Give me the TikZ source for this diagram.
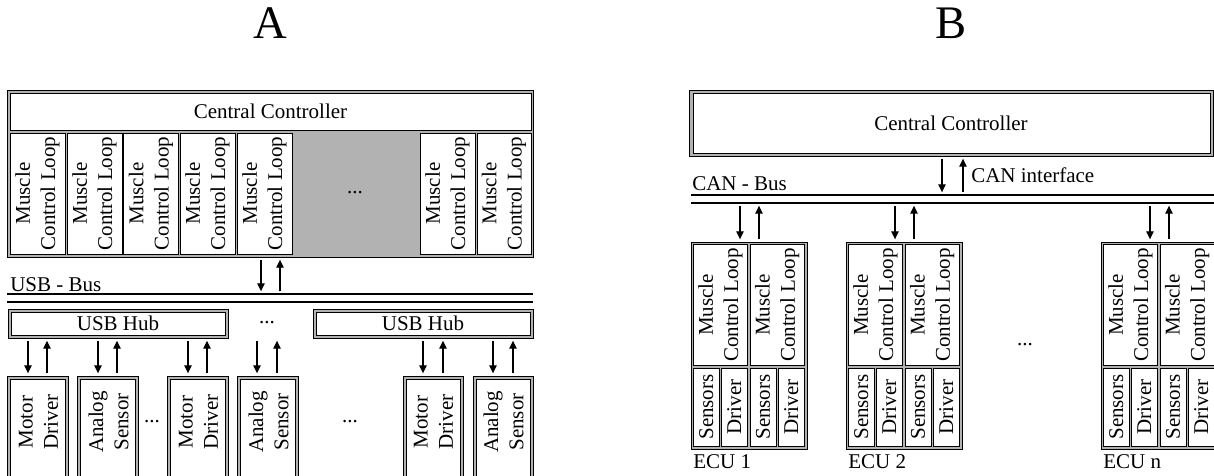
\documentclass[tikz,border=0pt]{standalone}
\usepackage{fontspec}
\setmainfont{Liberation Serif}
\usetikzlibrary{arrows.meta,fit}
\definecolor{band}{RGB}{178,178,178}
\newcommand\mybox[6]{\node[#1, fit={(#3,#4)(#5,#6)}] (#2) {};}
\newcommand\myecu[3]{%
  \mybox{frame}{#1}{691+#2}{242}{807+#2}{449}
  \mybox{cell}{#1m1}{693.5+#2}{244.5}{747.5+#2}{365.5}
  \mybox{cell}{#1m2}{750+#2}{244.5}{804.5+#2}{365.5}
  \mybox{cell}{#1s1}{693.5+#2}{368}{719+#2}{446}
  \mybox{cell}{#1d1}{721+#2}{368}{747.5+#2}{446}
  \mybox{cell}{#1s2}{750+#2}{368}{776+#2}{446}
  \mybox{cell}{#1d2}{778+#2}{368}{804.5+#2}{446}
  \node[vtxt] (#1m1t) at (#1m1) {Muscle\\Control Loop};
  \node[vtxt] (#1m2t) at (#1m2) {Muscle\\Control Loop};
  \node[vtxt] (#1s1t) at (#1s1) {Sensors};
  \node[vtxt] (#1d1t) at (#1d1) {Driver};
  \node[vtxt] (#1s2t) at (#1s2) {Sensors};
  \node[vtxt] (#1d2t) at (#1d2) {Driver};
  \node[txt, anchor=base west] (#1lab) at (693+#2,468) {#3};
  \draw[arr] (740+#2,0 |- busB2) -- (740+#2,0 |- #1.north);
  \draw[arr] (759+#2,0 |- #1.north) -- (759+#2,0 |- busB2);
}
\begin{document}
\begin{tikzpicture}[x=0.75pt,y=-0.75pt,
  frame/.style={draw=black, fill=band, line width=0.6pt, inner sep=0pt, outer sep=0pt},
  cell/.style={draw=black, fill=white, line width=0.5pt, inner sep=0pt, outer sep=0pt},
  txt/.style={font=\fontsize{15.75}{18.9}\selectfont, inner sep=0pt, align=center},
  vtxt/.style={txt, rotate=90},
  big/.style={font=\fontsize{35}{40}\selectfont, inner sep=0pt},
  arr/.style={-{Triangle[length=6pt,width=5.5pt]}, line width=0.95pt, shorten <=2pt, shorten >=2pt},
  busline/.style={line width=1.2pt}]
\useasboundingbox (0,0) rectangle (1214,475);
\clip (0,0) rectangle (1214,475);

% titles
\node[big, anchor=base] (la) at (270,38) {A};
\node[big, anchor=base] (lb) at (951,38) {B};

% ---------------- A ----------------
\mybox{frame}{fa}{7}{90}{533}{257}
\mybox{cell}{cca}{10}{93}{531}{130}
\node[txt] (ccat) at (cca) {Central Controller};
\mybox{cell}{ma1}{10}{133}{65}{254}
\mybox{cell}{ma2}{67}{133}{122}{254}
\mybox{cell}{ma3}{123.5}{133}{178.5}{254}
\mybox{cell}{ma4}{180}{133}{235}{254}
\mybox{cell}{ma5}{237}{133}{292}{254}
\mybox{cell}{ma6}{420}{133}{475}{254}
\mybox{cell}{ma7}{477}{133}{531}{254}
\foreach \i in {1,...,7} {\node[vtxt] (ma\i t) at (ma\i) {Muscle\\Control Loop};}
\node[txt] (dga) at (355,193) {...};

\coordinate (busA1) at (7,294);
\coordinate (busA2) at (533,294);
\coordinate (busA3) at (7,302);
\coordinate (busA4) at (533,302);
\draw[busline] (busA1) -- (busA2);
\draw[busline] (busA3) -- (busA4);
\node[txt, anchor=base west] (usbbus) at (10,291) {USB - Bus};
\draw[arr] (261,0 |- fa.south) -- (261,0 |- busA1);
\draw[arr] (280,0 |- busA1) -- (280,0 |- fa.south);

\mybox{frame}{hub1f}{8}{309}{228}{338}
\mybox{cell}{hub1}{11}{312}{225}{335}
\node[txt] (hub1t) at (hub1) {USB Hub};
\mybox{frame}{hub2f}{313}{309}{533}{338}
\mybox{cell}{hub2}{316}{312}{530}{335}
\node[txt] (hub2t) at (hub2) {USB Hub};
\node[txt] (dhub) at (267,323) {...};

\mybox{frame}{d1f}{7}{376}{68}{500}
\mybox{cell}{d1}{10}{379}{65}{500}
\mybox{frame}{d2f}{77}{376}{138}{500}
\mybox{cell}{d2}{80}{379}{135}{500}
\mybox{frame}{d3f}{167}{376}{228}{500}
\mybox{cell}{d3}{170}{379}{225}{500}
\mybox{frame}{d4f}{237}{376}{298}{500}
\mybox{cell}{d4}{240}{379}{295}{500}
\mybox{frame}{d5f}{403}{376}{463}{500}
\mybox{cell}{d5}{406}{379}{460}{500}
\mybox{frame}{d6f}{473}{376}{533}{500}
\mybox{cell}{d6}{476}{379}{530}{500}
\node[vtxt] (d1t) at (38.5,422) {Motor\\Driver};
\node[vtxt] (d2t) at (108.5,422) {Analog\\Sensor};
\node[vtxt] (d3t) at (198.5,422) {Motor\\Driver};
\node[vtxt] (d4t) at (268.5,422) {Analog\\Sensor};
\node[vtxt] (d5t) at (433.5,422) {Motor\\Driver};
\node[vtxt] (d6t) at (503.5,422) {Analog\\Sensor};
\node[txt] (dd1) at (152,422) {...};
\node[txt] (dd2) at (350,422) {...};

\draw[arr] (28,0 |- hub1f.south) -- (28,0 |- d1f.north);
\draw[arr] (47,0 |- d1f.north) -- (47,0 |- hub1f.south);
\draw[arr] (98,0 |- hub1f.south) -- (98,0 |- d2f.north);
\draw[arr] (117,0 |- d2f.north) -- (117,0 |- hub1f.south);
\draw[arr] (188,0 |- hub1f.south) -- (188,0 |- d3f.north);
\draw[arr] (207,0 |- d3f.north) -- (207,0 |- hub1f.south);
\draw[arr] (257,0 |- hub1f.south) -- (257,0 |- d4f.north);
\draw[arr] (277,0 |- d4f.north) -- (277,0 |- hub1f.south);
\draw[arr] (423,0 |- hub2f.south) -- (423,0 |- d5f.north);
\draw[arr] (443,0 |- d5f.north) -- (443,0 |- hub2f.south);
\draw[arr] (493,0 |- hub2f.south) -- (493,0 |- d6f.north);
\draw[arr] (513,0 |- d6f.north) -- (513,0 |- hub2f.south);

% ---------------- B ----------------
\mybox{frame}{fb}{689}{90}{1213}{156}
\mybox{cell}{ccb}{693}{93}{1210}{153}
\node[txt] (ccbt) at (951,123) {Central Controller};

\coordinate (busB1) at (691,195);
\coordinate (busB1e) at (1214,195);
\coordinate (busB2) at (691,203);
\coordinate (busB2e) at (1214,203);
\draw[line width=1.1pt] (busB1) -- (busB1e);
\draw[line width=1.8pt] (busB2) -- (busB2e);
\node[txt, anchor=base west] (canbus) at (692,190) {CAN - Bus};
\node[txt, anchor=base west] (canif) at (971,182) {CAN interface};
\draw[arr] (942,0 |- fb.south) -- (942,0 |- busB1);
\draw[arr] (963,0 |- busB1) -- (963,0 |- fb.south);

\myecu{ecua}{0}{ECU 1}
\myecu{ecub}{155}{ECU 2}
\myecu{ecun}{410}{ECU n}
\node[txt] (dotsb) at (1025,345) {...};
\end{tikzpicture}
\end{document}
